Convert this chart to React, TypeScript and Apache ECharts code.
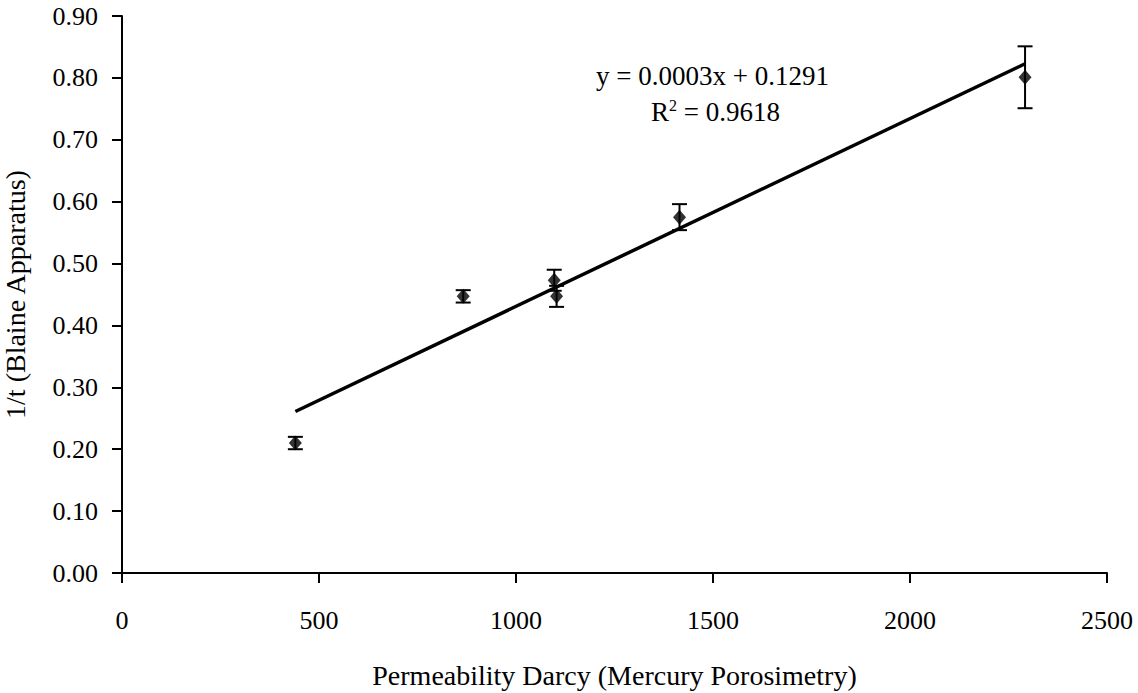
import React, { useEffect, useRef } from "react";
import * as echarts from "echarts";

const permeability = [440, 866, 1097, 1103, 1415, 2292];
const inverseTime = [0.21, 0.447, 0.473, 0.447, 0.575, 0.801];
const errorPlus = [0.01, 0.01, 0.017, 0.017, 0.021, 0.05];
const xTicks = [0, 500, 1000, 1500, 2000, 2500];
const yTicks = [0, 0.1, 0.2, 0.3, 0.4, 0.5, 0.6, 0.7, 0.8, 0.9];
const equationText = "y = 0.0003x + 0.1291";
const r2Value = "0.9618";

function fitLine(xs: number[], ys: number[]) {
  const n = xs.length;
  const mx = xs.reduce((a, b) => a + b, 0) / n;
  const my = ys.reduce((a, b) => a + b, 0) / n;
  let sxy = 0, sxx = 0;
  for (let i = 0; i < n; i++) {
    sxy += (xs[i] - mx) * (ys[i] - my);
    sxx += (xs[i] - mx) * (xs[i] - mx);
  }
  const slope = sxy / sxx;
  return { slope, intercept: my - slope * mx };
}

export default function App() {
  const ref = useRef<HTMLDivElement>(null);
  useEffect(() => {
    const chart = echarts.init(ref.current!, null, { renderer: "svg" });
    const fit = fitLine(permeability, inverseTime);
    const xMin = Math.min(...permeability);
    const xMax = Math.max(...permeability);
    const font = "'Liberation Serif', 'DejaVu Serif', serif";
    const errData = permeability.map((x, i) => [x, inverseTime[i] - errorPlus[i], inverseTime[i] + errorPlus[i]]);
    chart.setOption({
      animation: false,
      backgroundColor: "#ffffff",
      grid: { left: 122, right: 31, top: 16, bottom: 120, containLabel: false, outerBoundsMode: "none" },
      xAxis: {
        type: "value",
        min: xTicks[0],
        max: xTicks[xTicks.length - 1],
        interval: 500,
        name: "Permeability Darcy (Mercury Porosimetry)",
        nameLocation: "middle",
        nameGap: 88,
        nameTextStyle: { fontFamily: font, fontSize: 28, color: "#000" },
        axisLine: { show: true, lineStyle: { color: "#000", width: 2 } },
        axisTick: { show: true, inside: false, length: 10, lineStyle: { color: "#000", width: 2 } },
        axisLabel: {
          margin: 34,
          fontFamily: font,
          fontSize: 26,
          color: "#000",
          formatter: (v: number) => String(v),
        },
        splitLine: { show: false },
      },
      yAxis: {
        type: "value",
        min: yTicks[0],
        max: yTicks[yTicks.length - 1],
        interval: 0.1,
        name: "1/t (Blaine Apparatus)",
        nameLocation: "middle",
        nameGap: 93,
        nameTextStyle: { fontFamily: font, fontSize: 28, color: "#000" },
        axisLine: { show: true, lineStyle: { color: "#000", width: 2 } },
        axisTick: { show: true, inside: false, length: 10, lineStyle: { color: "#000", width: 2 } },
        axisLabel: {
          margin: 24,
          fontFamily: font,
          fontSize: 26,
          color: "#000",
          formatter: (v: number) => v.toFixed(2),
        },
        splitLine: { show: false },
      },
      graphic: [
        {
          type: "text",
          left: 596,
          top: 62,
          style: { text: equationText, font: `27px ${font}`, fill: "#000" },
        },
        {
          type: "text",
          left: 651,
          top: 97,
          style: {
            text: `{b|R}{s|2}{b| = ${r2Value}}`,
            rich: {
              b: { fontFamily: font, fontSize: 27, fill: "#000", color: "#000", verticalAlign: "bottom" },
              s: { fontFamily: font, fontSize: 16, fill: "#000", color: "#000", verticalAlign: "top", padding: [0, 0, 12, 0] },
            },
          },
        },
      ],
      series: [
        {
          type: "line",
          data: [
            [xMin, fit.intercept + fit.slope * xMin],
            [xMax, fit.intercept + fit.slope * xMax],
          ],
          showSymbol: false,
          symbol: "none",
          lineStyle: { color: "#000", width: 3.5 },
          z: 2,
        },
        {
          type: "custom",
          data: errData,
          renderItem: (params: any, api: any) => {
            const x = api.value(0);
            const lo = api.coord([x, api.value(1)]);
            const hi = api.coord([x, api.value(2)]);
            const half = 7.5;
            const st = { stroke: "#000", lineWidth: 2 };
            return {
              type: "group",
              children: [
                { type: "line", shape: { x1: lo[0], y1: lo[1], x2: hi[0], y2: hi[1] }, style: st },
                { type: "line", shape: { x1: lo[0] - half, y1: lo[1], x2: lo[0] + half, y2: lo[1] }, style: st },
                { type: "line", shape: { x1: hi[0] - half, y1: hi[1], x2: hi[0] + half, y2: hi[1] }, style: st },
              ],
            };
          },
          z: 3,
        },
        {
          type: "scatter",
          data: permeability.map((x, i) => [x, inverseTime[i]]),
          symbol: "diamond",
          symbolSize: [13, 15],
          itemStyle: { color: "#000" },
          z: 4,
        },
      ],
    });
    return () => chart.dispose();
  }, []);
  return <div ref={ref} style={{ width: 1138, height: 693, position: "absolute", left: 0, top: 0 }} />;
}
